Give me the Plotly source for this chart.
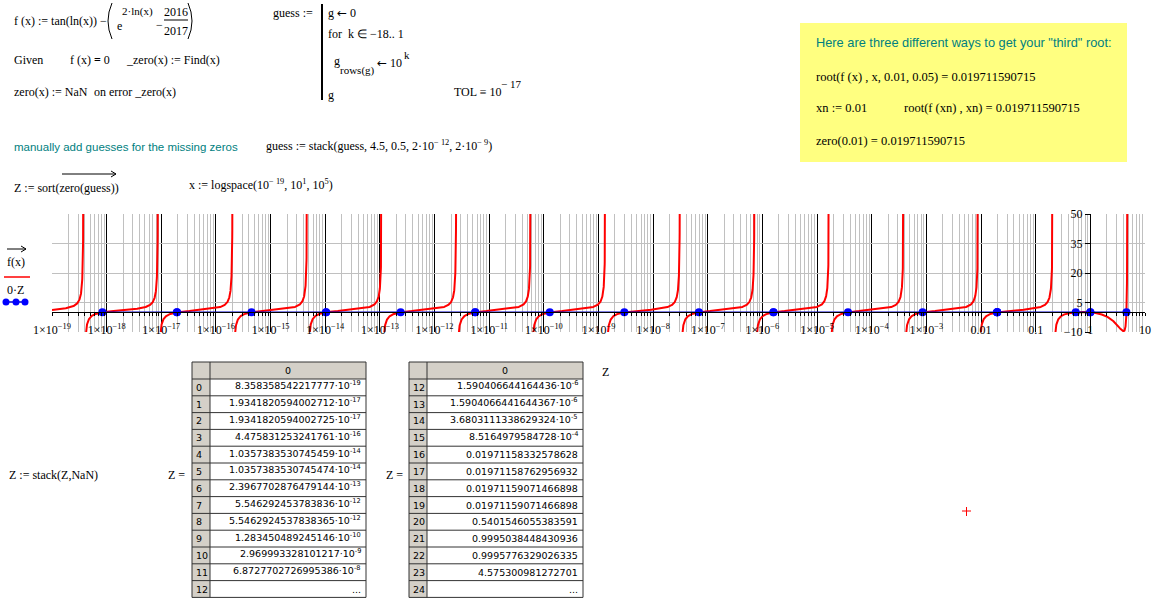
import numpy as np
import plotly.graph_objects as go

W, H = 1163, 604
SERIF = "Liberation Serif"
SANS = "Liberation Sans"
TAB = "DejaVu Sans"
TEAL = "#008080"
GRAY = "#d4d0c8"

# roots listed in the Z table (mantissa, power of ten; None = plain number)
z_mant = ["8.358358542217777", "1.9341820594002712", "1.9341820594002725", "4.475831253241761",
          "1.0357383530745459", "1.0357383530745474", "2.3967702876479144", "5.546292453783836",
          "5.5462924537838365", "1.283450489245146", "2.969993328101217", "6.8727702726995386",
          "1.590406644164436", "1.5904066441644367", "3.6803111338629324", "8.5164979584728",
          "0.01971158332578628", "0.01971158762956932", "0.01971159071466898", "0.01971159071466898",
          "0.5401546055383591", "0.9995038448430936", "0.9995776329026335", "4.575300981272701"]
z_exp = [-19, -17, -17, -16, -14, -14, -13, -12, -12, -10, -9, -8,
         -6, -6, -5, -4, None, None, None, None, None, None, None, None]
Z = [float(m) * 10.0 ** (e or 0) for m, e in zip(z_mant, z_exp)]

x_decades = list(range(-19, 2))
x_ticktext = ["1×10<sup>−%d</sup>" % -k for k in range(-19, -2)] + ["0.01", "0.1", "1", "10"]
y_ticks = [-10, 5, 20, 35, 50]

# f(x) exactly as written in the worksheet, on x := logspace(1e-19, 10, ...)
x_curve = np.logspace(-19, 1, 20001)
f_curve = np.tan(np.log(x_curve)) - (np.exp(2 * np.log(x_curve)) - 2016 / 2017)
f_curve[np.abs(f_curve) > 200] = np.nan

ann = []
shp = []


def px(x):
    return x / W


def py(y):
    return 1 - y / H


def T(x, y, s, size=12, color="black", family=SERIF, xa="left", ya="middle"):
    ann.append(dict(xref="paper", yref="paper", x=px(x), y=py(y), text=s, showarrow=False,
                    xanchor=xa, yanchor=ya, borderpad=0,
                    font=dict(family=family, size=size, color=color)))


def L(x0, y0, x1, y1, color="black", w=1):
    shp.append(dict(type="line", xref="paper", yref="paper", x0=px(x0), y0=py(y0),
                    x1=px(x1), y1=py(y1), line=dict(color=color, width=w)))


def R(x0, y0, x1, y1, fill, line=None):
    shp.append(dict(type="rect", xref="paper", yref="paper", x0=px(x0), y0=py(y0),
                    x1=px(x1), y1=py(y1), fillcolor=fill, layer="below",
                    line=dict(width=0) if line is None else dict(color=line, width=1)))


def P(d, color="black", w=1):
    shp.append(dict(type="path", xref="paper", yref="paper", path=d,
                    line=dict(color=color, width=w)))


def paren(x_end, x_mid, y0, y1):
    P("M %f,%f Q %f,%f %f,%f" % (px(x_end), py(y0), px(x_mid), py((y0 + y1) / 2), px(x_end), py(y1)))


def vec_arrow(x0, x1, y):
    L(x0, y, x1, y)
    P("M %f,%f L %f,%f L %f,%f" % (px(x1 - 5), py(y - 3), px(x1), py(y), px(x1 - 5), py(y + 3)))


ARW = "<span style='font-family:DejaVu Sans'>←</span>"

# ---- worksheet text, top left
T(13, 21, "f (x) := tan(ln(x)) −")
paren(112, 104, 3, 39)
T(116, 26, "e")
T(121, 12, "2·ln(x)", size=11)
T(155, 25, "−")
T(176, 12, "2016", xa="center")
L(164, 20, 188, 20)
T(176, 31, "2017", xa="center")
paren(188, 196, 3, 39)

T(13, 60, "Given")
T(69, 60, "f (x) <b>=</b> 0")
T(125, 60, "_zero(x) := Find(x)")
T(13, 92, "zero(x) := NaN")
T(93, 92, "on error _zero(x)")

# program block
T(272, 13, "guess :=")
L(322, 4, 322, 100, w=2)
T(327, 13, "g " + ARW + " 0")
T(327, 34, "for  k ∈ −18.. 1")
T(333, 61, "g")
T(339, 70, "rows(g)", size=11)
T(376, 63, ARW + " 10")
T(403, 55, "k", size=11)
T(327, 95, "g")
T(453, 92, "TOL ≡ 10")
T(500, 84, "− 17", size=11)

T(13, 147, "manually add guesses for the missing zeros", size=11.5, color=TEAL, family=SANS)
T(265, 145, "guess := stack(guess, 4.5, 0.5, 2·10<sup>− 12</sup>, 2·10<sup>− 9</sup>)")
T(13, 188, "Z := sort(zero(guess))")
vec_arrow(62, 116, 174)
T(188, 185, "x := logspace(10<sup>− 19</sup>, 10<sup>1</sup>, 10<sup>5</sup>)")

# yellow note
R(800, 23, 1127, 162, "#ffff80")
T(815, 43, "Here are three different ways to get your \"third\" root:", size=12.8, color=TEAL, family=SANS)
T(815, 77, "root(f (x) , x, 0.01, 0.05) = 0.019711590715", size=12.5)
T(815, 108, "xn := 0.01", size=12.5)
T(903, 108, "root(f (xn) , xn) = 0.019711590715", size=12.5)
T(815, 141, "zero(0.01) = 0.019711590715", size=12.5)

# plot legend
vec_arrow(7, 26, 249)
T(16, 262, "f(x)", xa="center")
L(4, 277, 30, 277, color="red", w=1.5)
T(15, 290, "0·Z", xa="center")
L(5, 302, 26, 302, color="#0000cc", w=1.5)
for cx in (6, 16, 25):
    shp.append(dict(type="circle", xref="paper", yref="paper", x0=px(cx - 3.5), x1=px(cx + 3.5),
                    y0=py(302 - 3.5), y1=py(302 + 3.5), fillcolor="blue", line=dict(color="blue", width=0)))


# ---- tables
def table(left, idx_right, right, first):
    top, hh, rh = 362, 17, 16.8
    bottom = top + hh + 13 * rh
    R(left, top, right, top + hh, GRAY)
    R(left, top + hh, idx_right, bottom, GRAY)
    R(idx_right, top + hh, right, bottom, "white")
    L(left, top, right, top, color="#333")
    L(left, top + hh, right, top + hh, color="#333")
    for k in range(1, 14):
        L(left, top + hh + k * rh, right, top + hh + k * rh, color="#333")
    for xv in (left, idx_right, right):
        L(xv, top, xv, bottom, color="#333")
    T((idx_right + right) / 2, top + hh / 2, "0", size=9.5, family=TAB, xa="center")
    for k in range(13):
        i = first + k
        yc = top + hh + (k + 0.5) * rh
        T(left + 3, yc, str(i), size=9.5, family=TAB)
        if k == 12:
            T(right - 4, yc, "...", size=9.5, family=TAB, xa="right")
        elif z_exp[i] is None:
            T(right - 4, yc, z_mant[i], size=9.5, family=TAB, xa="right")
        else:
            T(right - 4, yc - 2, "%s·10<sup>%d</sup>" % (z_mant[i], z_exp[i]), size=9.5, family=TAB, xa="right")


T(8, 475, "Z := stack(Z,NaN)")
T(167, 475, "Z =")
table(192, 210, 366, 0)
T(385, 475, "Z =")
table(409, 427, 583, 12)
T(601, 372, "Z")

# red cursor cross
L(962, 511, 971, 511, color="red")
L(966.5, 507, 966.5, 516, color="red")

fig = go.Figure()
fig.add_trace(go.Scatter(x=x_curve, y=f_curve, mode="lines", line=dict(color="red", width=2),
                         hoverinfo="skip", showlegend=False))
fig.add_trace(go.Scatter(x=Z, y=[0.0] * len(Z), mode="lines+markers",
                         line=dict(color="#0000cc", width=1.5),
                         marker=dict(color="blue", size=8), showlegend=False))

minor_vals = [m * 10.0 ** k for k in range(-19, 1) for m in range(2, 10)]

fig.update_layout(
    width=W, height=H, margin=dict(l=0, r=0, t=0, b=0, autoexpand=False),
    paper_bgcolor="white", plot_bgcolor="white",
    annotations=ann, shapes=shp, showlegend=False,
    xaxis=dict(type="log", range=[-19, 1], domain=[px(52), px(1145)],
               anchor="free", position=py(312.3), automargin=False,
               tickvals=[10.0 ** k for k in x_decades], ticktext=x_ticktext,
               ticks="outside", ticklen=3, tickcolor="black", ticklabelstandoff=3,
               showline=True, linecolor="black", linewidth=1,
               showgrid=True, gridcolor="black", gridwidth=1, zeroline=False,
               minor=dict(tickvals=minor_vals, ticks="outside", ticklen=3, tickcolor="black",
                          showgrid=True, gridcolor="#c0c0c0", gridwidth=1),
               tickfont=dict(family=SERIF, size=12, color="black")),
    yaxis=dict(range=[-10, 50], domain=[py(332), py(214)],
               anchor="free", position=px(1090), automargin=False,
               tickvals=y_ticks, ticks="outside", ticklen=5, tickcolor="black",
               showline=True, linecolor="black", linewidth=1,
               showgrid=True, gridcolor="#c0c0c0", gridwidth=1, zeroline=False,
               tickfont=dict(family=SERIF, size=12, color="black")),
)

# the page body keeps its default 8px margin otherwise
fig.write_html("out.html", config={"displayModeBar": False},
               post_script="document.body.style.margin='0px';")
